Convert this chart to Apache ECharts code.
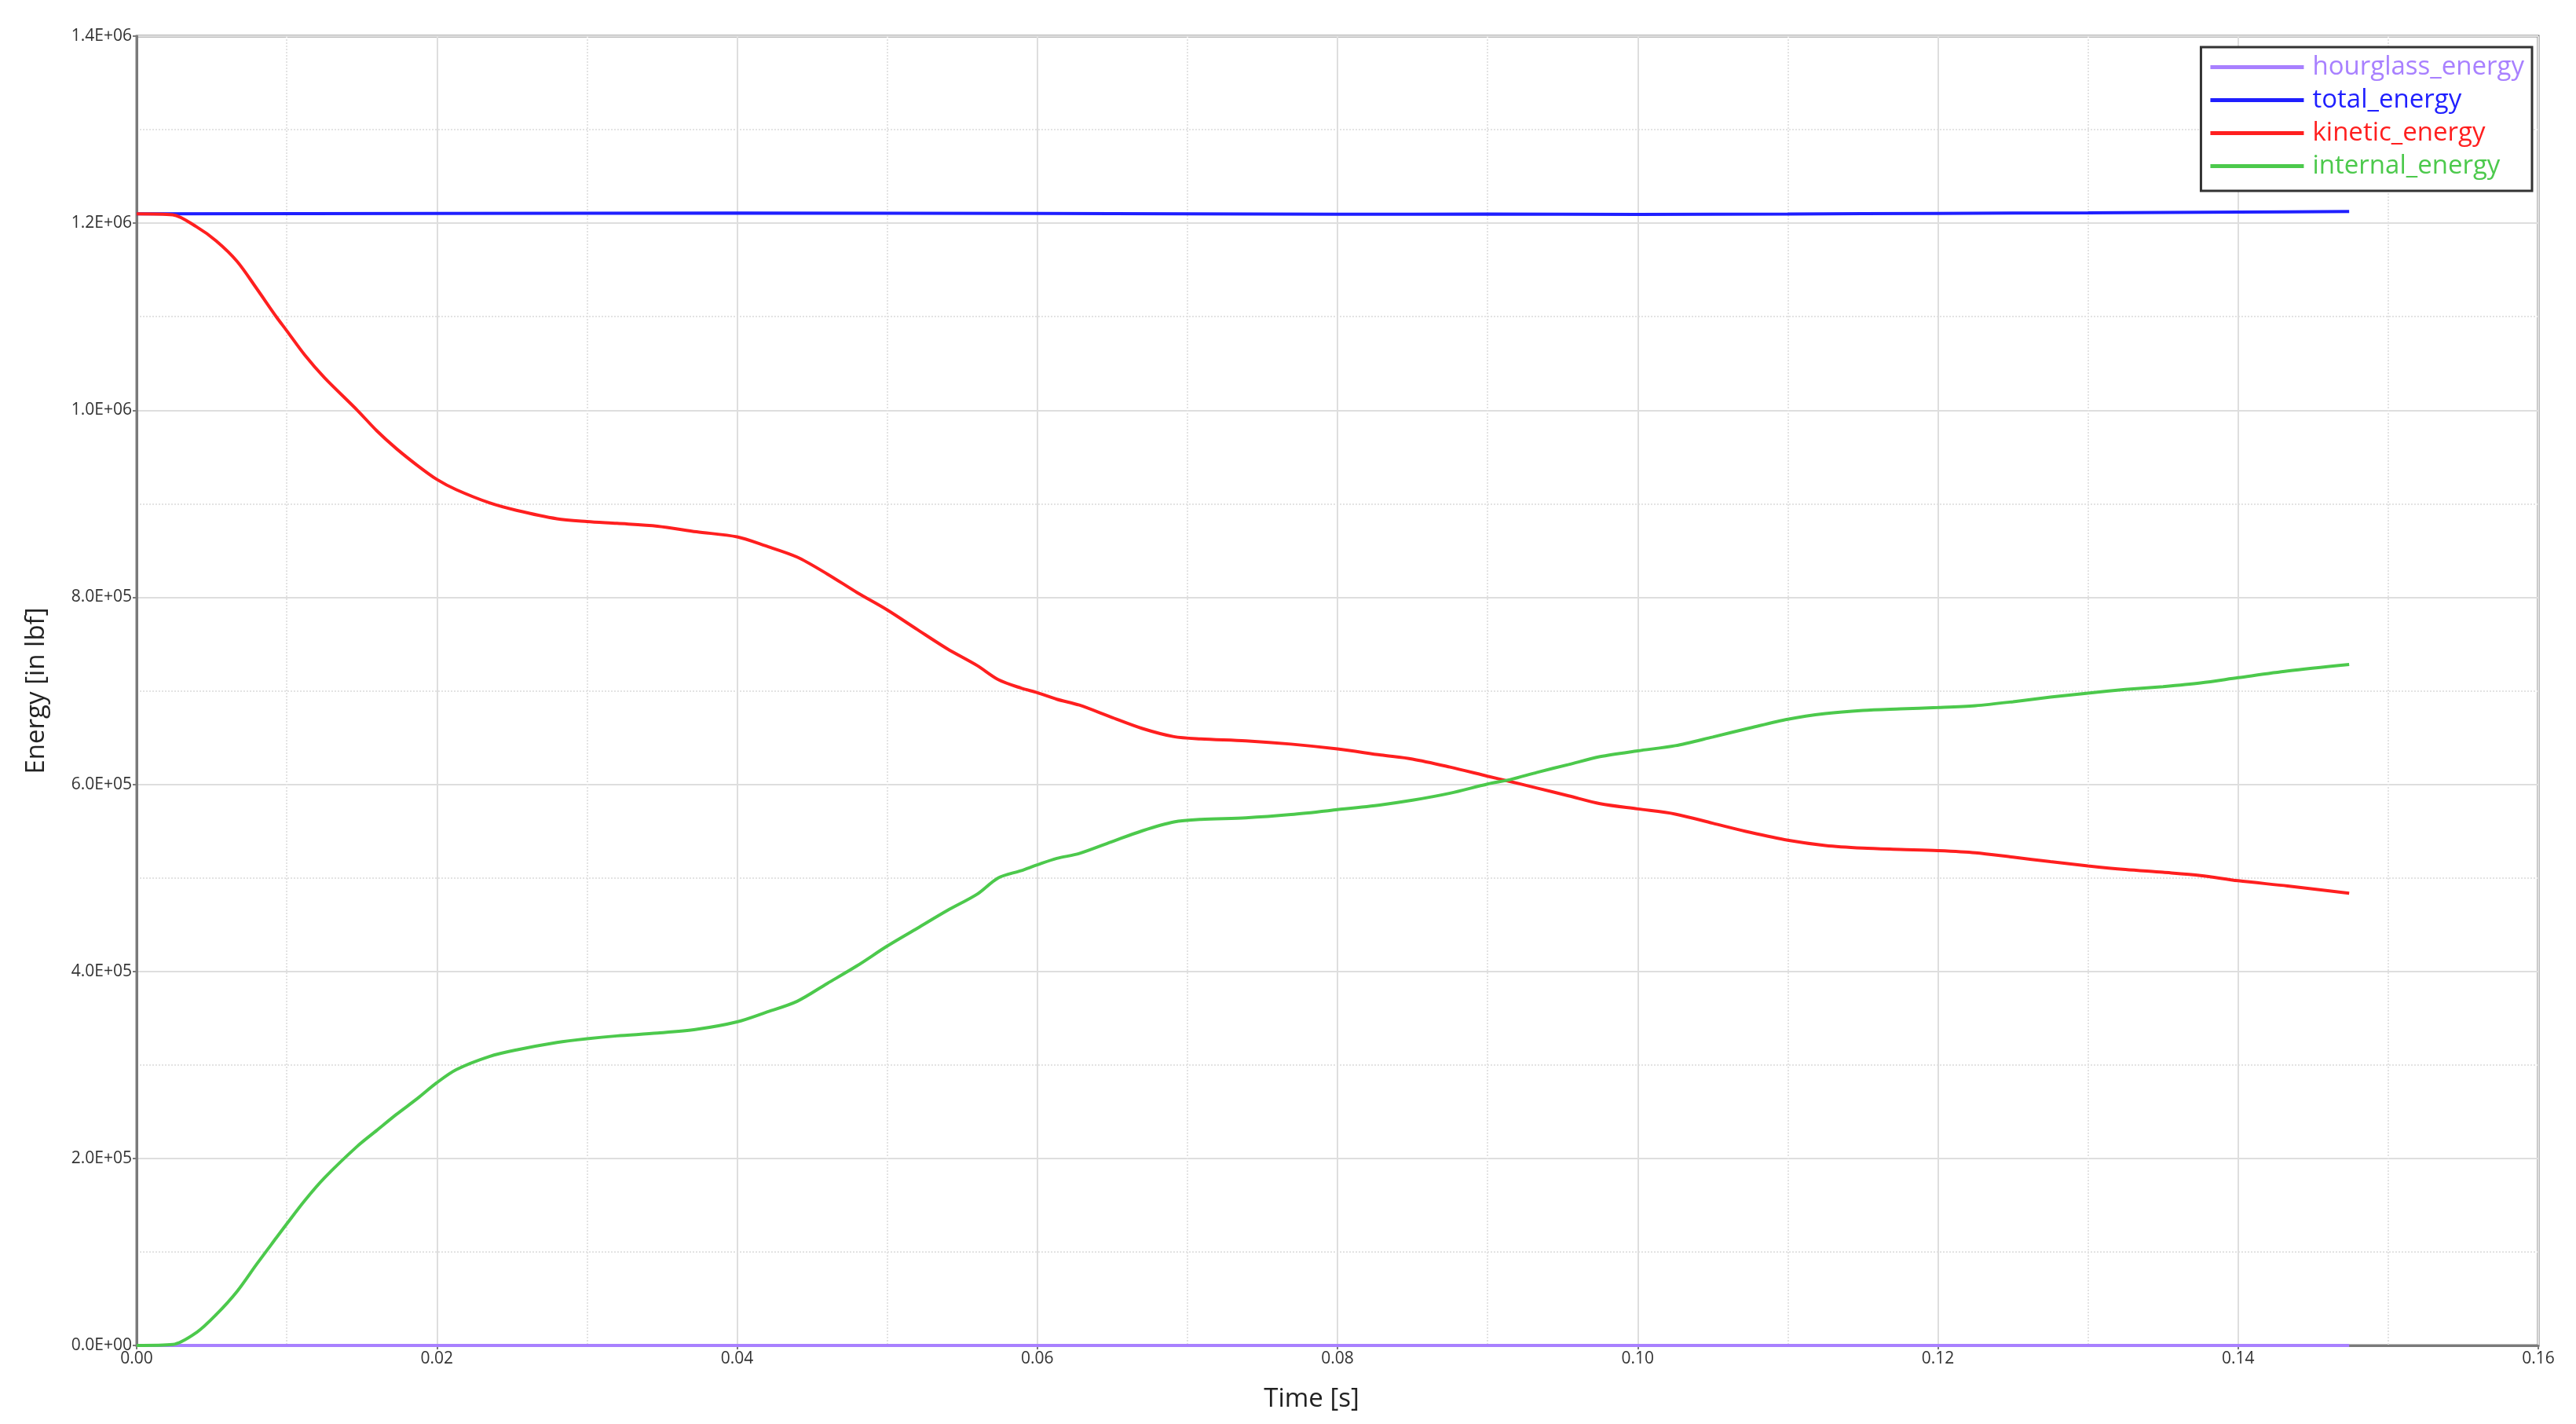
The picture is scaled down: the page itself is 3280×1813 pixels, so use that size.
<!DOCTYPE html>
<html>
<head>
<meta charset="utf-8">
<style>
  html, body { margin: 0; padding: 0; background: #fff; }
  #chart { width: 3280px; height: 1813px; }
</style>
<script src="https://cdn.jsdelivr.net/npm/echarts@6/dist/echarts.min.js"></script>
</head>
<body>
<div id="chart"></div>
<script>
// time samples [s] for kinetic / internal energy
const time = [
  0, 0.0024, 0.004, 0.0053, 0.0067, 0.008, 0.0093, 0.01, 0.0112, 0.0125,
  0.0147, 0.016, 0.0173, 0.0187, 0.02, 0.0213, 0.0235, 0.0253, 0.028, 0.03,
  0.032, 0.0347, 0.0373, 0.04, 0.0419, 0.044, 0.046, 0.048, 0.05, 0.052,
  0.054, 0.056, 0.0574, 0.0589, 0.06, 0.0613, 0.0628, 0.0649, 0.067, 0.0691,
  0.0709, 0.0739, 0.0769, 0.08, 0.0829, 0.085, 0.0875, 0.09, 0.0915, 0.0933,
  0.0954, 0.0975, 0.1, 0.1025, 0.105, 0.1075, 0.11, 0.1125, 0.115, 0.1175,
  0.12, 0.1225, 0.125, 0.1275, 0.13, 0.1325, 0.135, 0.1375, 0.14, 0.1433, 0.1474
];

const kineticEnergy = [
  1210000, 1209000, 1196000, 1181000, 1159000, 1130000, 1100000, 1085000, 1059000, 1035000,
  1000000, 978000, 959000, 941000, 926000, 915000, 901000, 893000, 884000, 881000,
  879000, 876000, 870000, 864600, 855000, 843000, 825000, 805000, 786500, 765600,
  745000, 727000, 712000, 703000, 698000, 691000, 684700, 672000, 659700, 651000,
  648600, 646500, 643000, 637800, 631300, 627000, 618400, 608700, 603000, 596000,
  587700, 579300, 573700, 568200, 558400, 548600, 540200, 534600, 531800, 530400,
  529100, 526800, 522100, 517300, 512800, 508900, 505900, 502500, 496900, 491300, 483500
];

const internalEnergy = [
  0, 1000, 14000, 33000, 58000, 87000, 115000, 130000, 155000, 179000,
  213000, 230000, 247000, 264000, 281000, 295000, 309000, 316000, 324000, 328000,
  331000, 334000, 338000, 346000, 356000, 368000, 387000, 406000, 427000, 446000,
  465000, 482600, 500000, 507600, 513900, 520800, 526000, 538200, 550300, 559700,
  562500, 564200, 567700, 572900, 578100, 583000, 590500, 600300, 605000, 612800,
  621200, 629600, 635800, 641300, 650600, 660300, 669600, 675700, 679100, 680700,
  682100, 684100, 688300, 693300, 697500, 701400, 704500, 708400, 714000, 721200, 728200
];

const totalTime = [0, 0.02, 0.04, 0.06, 0.07, 0.08, 0.09, 0.1, 0.11, 0.12, 0.13, 0.14, 0.1474];
const totalEnergy = [1210000, 1210500, 1210800, 1210500, 1210000, 1209500, 1209800, 1209300, 1209800, 1210500, 1211000, 1211800, 1212500];

const hourglassTime = [0, 0.1474];
const hourglassEnergy = [0, 0];

const seriesNames = ["hourglass_energy", "total_energy", "kinetic_energy", "internal_energy"];
const seriesColors = ["#a880ff", "#1f1fff", "#ff1f1f", "#4cc94c"];

function pairs(xs, ys) {
  return xs.map(function (x, i) { return [x, ys[i]]; });
}

function sci(v) {
  if (v === 0) return "0.0E+00";
  let e = Math.floor(Math.log10(Math.abs(v)));
  let m = v / Math.pow(10, e);
  return m.toFixed(1) + "E+" + (e < 10 ? "0" + e : e);
}

const chart = echarts.init(document.getElementById("chart"));

const lineSeries = (name, idx, data, width) => ({
  name: name,
  type: "line",
  data: data,
  showSymbol: false,
  smooth: 0.3,
  color: seriesColors[idx],
  lineStyle: { width: width, color: seriesColors[idx] },
  emphasis: { disabled: true },
  animation: false
});

chart.setOption({
  backgroundColor: "#ffffff",
  animation: false,
  textStyle: { fontFamily: "Open Sans" },
  grid: {
    left: 174,
    right: 48,
    top: 46,
    bottom: 100,
    show: true,
    borderColor: "#7a7a7a",
    borderWidth: 3,
    backgroundColor: "#ffffff"
  },
  legend: {
    orient: "vertical",
    right: 56,
    top: 60,
    icon: "rect",
    itemWidth: 119,
    itemHeight: 5,
    itemGap: 9,
    padding: [9, 10, 15, 12],
    borderColor: "#333333",
    borderWidth: 3,
    backgroundColor: "#ffffff",
    data: seriesNames.map(function (n, i) {
      return { name: n, textStyle: { color: seriesColors[i] } };
    }),
    textStyle: { fontSize: 33, fontFamily: "Open Sans", padding: [0, 0, 0, 6] }
  },
  xAxis: {
    type: "value",
    min: 0,
    max: 0.16,
    interval: 0.02,
    name: "Time [s]",
    nameLocation: "middle",
    nameGap: 52,
    nameTextStyle: { fontSize: 33, color: "#222", fontFamily: "Open Sans", padding: [0, 66, 0, 0] },
    axisLine: { lineStyle: { color: "#7a7a7a", width: 3 } },
    axisTick: { show: true, length: 5, lineStyle: { color: "#7a7a7a", width: 2 } },
    axisLabel: {
      fontSize: 21,
      color: "#333",
      margin: 7,
      formatter: function (v) { return v.toFixed(2); }
    },
    splitLine: { show: true, lineStyle: { color: "#dedede", width: 2 } },
    minorTick: { show: false, splitNumber: 2 },
    minorSplitLine: { show: true, lineStyle: { color: "#e3e3e3", width: 2, type: "dotted" } }
  },
  yAxis: {
    type: "value",
    min: 0,
    max: 1400000,
    interval: 200000,
    name: "Energy [in lbf]",
    nameLocation: "middle",
    nameRotate: 90,
    nameGap: 111,
    nameTextStyle: { fontSize: 33, color: "#222", fontFamily: "Open Sans" },
    axisLine: { show: true, lineStyle: { color: "#7a7a7a", width: 3 } },
    axisTick: { show: true, length: 5, lineStyle: { color: "#7a7a7a", width: 2 } },
    axisLabel: {
      fontSize: 21,
      color: "#333",
      margin: 6,
      formatter: sci
    },
    splitLine: { show: true, lineStyle: { color: "#dedede", width: 2 } },
    minorTick: { show: false, splitNumber: 2 },
    minorSplitLine: { show: true, lineStyle: { color: "#e3e3e3", width: 2, type: "dotted" } }
  },
  series: [
    lineSeries(seriesNames[0], 0, pairs(hourglassTime, hourglassEnergy), 4),
    lineSeries(seriesNames[1], 1, pairs(totalTime, totalEnergy), 4),
    lineSeries(seriesNames[2], 2, pairs(time, kineticEnergy), 4),
    lineSeries(seriesNames[3], 3, pairs(time, internalEnergy), 4)
  ]
});
</script>
</body>
</html>
